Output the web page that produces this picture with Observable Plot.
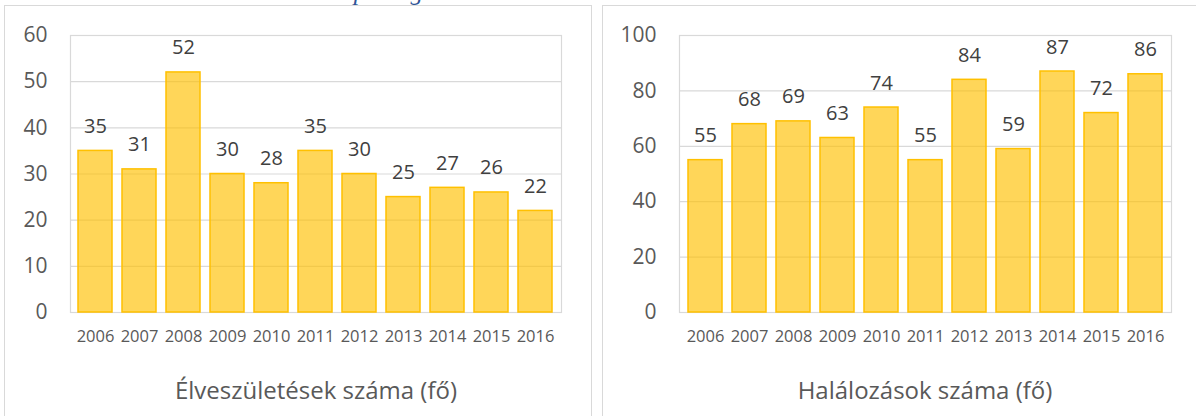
<!DOCTYPE html>
<html>
<head>
<meta charset="utf-8">
<script src="https://cdn.jsdelivr.net/npm/d3@7"></script>
<script src="https://cdn.jsdelivr.net/npm/@observablehq/plot@0.6"></script>
<style>
  html, body { margin: 0; padding: 0; background: #fff; }
  #wrap { position: relative; width: 1196px; height: 416px; overflow: hidden; background: #fff; font-family: "Open Sans", sans-serif; }
  .panel { position: absolute; border: 1px solid #d9d9d9; background: #fff; }
  .chart { position: absolute; top: 0; }
  .title { position: absolute; font-size: 24px; color: #595959; transform: translate(-50%, -50%); white-space: nowrap; }
  #caption { position: absolute; left: 325px; top: -21px; font-family: "Liberation Serif", serif; font-style: italic; font-size: 25px; line-height: 25px; letter-spacing: 0.5px; color: #2F5496; white-space: nowrap; }
</style>
</head>
<body>
<div id="wrap">
  <div id="caption">Népesség alakulása</div>
  <div class="panel" style="left:4px; top:5px; width:586px; height:430px;"></div>
  <div class="panel" style="left:602px; top:5px; width:600px; height:430px;"></div>
  <div id="left" class="chart" style="left:0px;"></div>
  <div id="right" class="chart" style="left:598px;"></div>
  <div class="title" style="left:316px; top:389px;">Élveszületések száma (fő)</div>
  <div class="title" style="left:925px; top:389px;">Halálozások száma (fő)</div>
</div>
<script>
const years = ["2006","2007","2008","2009","2010","2011","2012","2013","2014","2015","2016"];
const births = [35, 31, 52, 30, 28, 35, 30, 25, 27, 26, 22];
const deaths = [55, 68, 69, 63, 74, 55, 84, 59, 87, 72, 86];
const birthTicks = [0, 10, 20, 30, 40, 50, 60];
const deathTicks = [0, 20, 40, 60, 80, 100];

function makeChart(values, ticks, width, marginLeft, marginRight) {
  const data = years.map((y, i) => ({year: y, value: values[i]}));
  return Plot.plot({
    width, height: 360,
    marginLeft, marginRight, marginTop: 35, marginBottom: 48,
    style: {fontFamily: "Open Sans, sans-serif", background: "transparent", overflow: "visible"},
    x: {domain: years, paddingInner: 0.22, paddingOuter: 0.11, label: null},
    y: {domain: [0, ticks[ticks.length - 1]], label: null},
    marks: [
      Plot.gridY(ticks, {stroke: "#d9d9d9", strokeOpacity: 1, strokeWidth: 1.2}),
      Plot.frame({stroke: "#d9d9d9", strokeWidth: 1.2}),
      Plot.barY(data, {x: "year", y: "value", fill: "#FFC000", fillOpacity: 0.65, stroke: "#FFC000", strokeWidth: 1.5}),
      Plot.text(data, {x: "year", y: "value", text: d => String(d.value), lineAnchor: "bottom", dy: -18, fontSize: 20, fill: "#404040"}),
      Plot.axisY({ticks, tickSize: 0, tickPadding: 23, fontSize: 21, fill: "#595959", label: null}),
      Plot.axisX({tickSize: 0, tickPadding: 18, fontSize: 16.5, fill: "#595959", label: null})
    ]
  });
}

document.getElementById("left").append(makeChart(births, birthTicks, 594, 70, 33));
document.getElementById("right").append(makeChart(deaths, deathTicks, 598, 81, 25));
</script>
</body>
</html>
